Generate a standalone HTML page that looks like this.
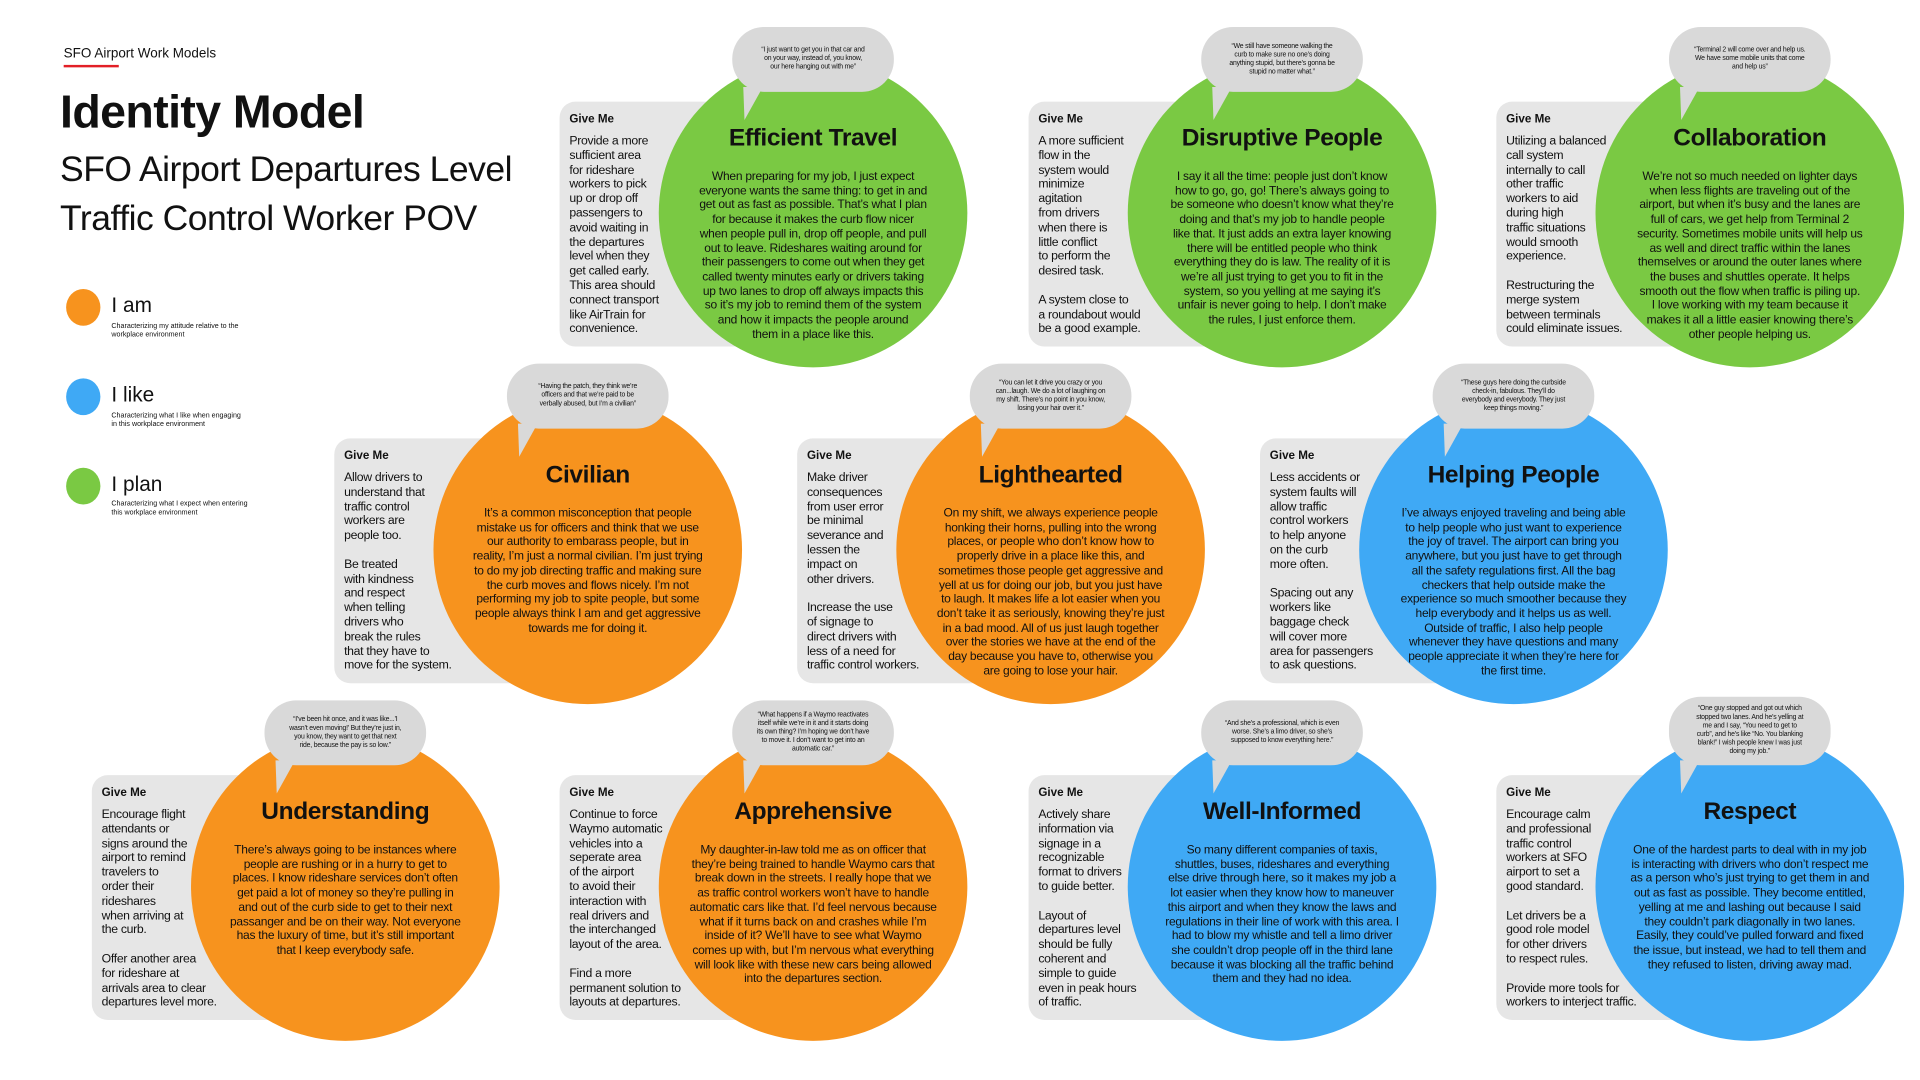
<!DOCTYPE html>
<html><head><meta charset="utf-8"><style>
html,body{margin:0;padding:0;background:#fff;}
body{width:1920px;height:1080px;overflow:hidden;position:relative;font-family:"Liberation Sans",Arial,sans-serif;color:#111;}
#w{position:absolute;left:0;top:0;width:1568px;height:882px;transform:scale(1.22449);transform-origin:0 0;}
.a{position:absolute;white-space:nowrap;}
.card{position:absolute;width:1px;height:1px;}
.box{position:absolute;left:0;top:0;width:215px;height:200px;background:#e6e6e6;border-radius:13px;}
.circ{position:absolute;left:81px;top:-35px;width:252px;height:252px;border-radius:50%;}
.g{background:#7ac943}.o{background:#f7931e}.b{background:#3fa9f5}
.bub{position:absolute;left:141px;top:-61px;width:132px;height:53px;background:#d9d9d9;border-radius:26px;display:flex;align-items:center;justify-content:center;text-align:center;font-size:5.6px;line-height:7px;letter-spacing:-0.15px;white-space:nowrap;}
.tail{position:absolute;left:0;top:0;overflow:visible;}
.gm{position:absolute;left:8px;top:9px;font-size:9.5px;font-weight:bold;white-space:nowrap;}
.gt{position:absolute;left:8px;top:27px;font-size:10px;line-height:11.8px;white-space:nowrap;letter-spacing:-0.25px;}
.ti{position:absolute;left:67px;top:19px;width:280px;text-align:center;font-size:20px;font-weight:bold;letter-spacing:-0.3px;white-space:nowrap;}
.bd{position:absolute;left:67px;top:56px;width:280px;text-align:center;font-size:9.8px;line-height:11.7px;white-space:nowrap;letter-spacing:-0.2px;}
.leg{position:absolute;width:28px;height:30px;border-radius:50%;}
</style></head><body><div id="w">

<div class="a" style="left:52px;top:38px;font-size:11px;">SFO Airport Work Models</div>
<div class="a" style="left:52px;top:53px;width:45px;height:2px;background:#e21f26;"></div>
<div class="a" style="left:49px;top:71px;font-size:38px;font-weight:bold;letter-spacing:-0.5px;">Identity Model</div>
<div class="a" style="left:49px;top:119px;font-size:29px;line-height:40px;letter-spacing:-0.4px;">SFO Airport Departures Level<br>Traffic Control Worker POV</div>

<div class="leg o" style="left:54px;top:236px;"></div>
<div class="a" style="left:91px;top:240px;font-size:17px;">I am</div>
<div class="a" style="left:91px;top:264px;font-size:5.8px;line-height:7px;">Characterizing my attitude relative to the<br>workplace environment</div>
<div class="leg b" style="left:54px;top:309px;"></div>
<div class="a" style="left:91px;top:313px;font-size:17px;">I like</div>
<div class="a" style="left:91px;top:337px;font-size:5.8px;line-height:7px;">Characterizing what I like when engaging<br>in this workplace environment</div>
<div class="leg g" style="left:54px;top:382px;"></div>
<div class="a" style="left:91px;top:386px;font-size:17px;">I plan</div>
<div class="a" style="left:91px;top:409px;font-size:5.8px;line-height:7px;">Characterizing what I expect when entering<br>this workplace environment</div>

<!-- Row 1 -->
<div class="card" style="left:457px;top:83px;">
<div class="box"></div><div class="circ g"></div>
<div class="bub">“I just want to get you in that car and<br>on your way, instead of, you know,<br>our here hanging out with me”</div>
<svg class="tail" width="1" height="1"><polygon points="150,-12 166,-12 151,15" fill="#d9d9d9"/></svg>
<div class="gm">Give Me</div>
<div class="gt">Provide a more<br>sufficient area<br>for rideshare<br>workers to pick<br>up or drop off<br>passengers to<br>avoid waiting in<br>the departures<br>level when they<br>get called early.<br>This area should<br>connect transport<br>like AirTrain for<br>convenience.</div>
<div class="ti">Efficient Travel</div>
<div class="bd">When preparing for my job, I just expect<br>everyone wants the same thing: to get in and<br>get out as fast as possible. That’s what I plan<br>for because it makes the curb flow nicer<br>when people pull in, drop off people, and pull<br>out to leave. Rideshares waiting around for<br>their passengers to come out when they get<br>called twenty minutes early or drivers taking<br>up two lanes to drop off always impacts this<br>so it’s my job to remind them of the system<br>and how it impacts the people around<br>them in a place like this.</div>
</div>

<div class="card" style="left:840px;top:83px;">
<div class="box"></div><div class="circ g"></div>
<div class="bub">“We still have someone walking the<br>curb to make sure no one’s doing<br>anything stupid, but there’s gonna be<br>stupid no matter what.”</div>
<svg class="tail" width="1" height="1"><polygon points="150,-12 166,-12 151,15" fill="#d9d9d9"/></svg>
<div class="gm">Give Me</div>
<div class="gt">A more sufficient<br>flow in the<br>system would<br>minimize<br>agitation<br>from drivers<br>when there is<br>little conflict<br>to perform the<br>desired task.<br><br>A system close to<br>a roundabout would<br>be a good example.</div>
<div class="ti">Disruptive People</div>
<div class="bd">I say it all the time: people just don’t know<br>how to go, go, go! There’s always going to<br>be someone who doesn’t know what they’re<br>doing and that’s my job to handle people<br>like that. It just adds an extra layer knowing<br>there will be entitled people who think<br>everything they do is law. The reality of it is<br>we’re all just trying to get you to fit in the<br>system, so you yelling at me saying it’s<br>unfair is never going to help. I don’t make<br>the rules, I just enforce them.</div>
</div>

<div class="card" style="left:1222px;top:83px;">
<div class="box"></div><div class="circ g"></div>
<div class="bub">“Terminal 2 will come over and help us.<br>We have some mobile units that come<br>and help us”</div>
<svg class="tail" width="1" height="1"><polygon points="150,-12 166,-12 151,15" fill="#d9d9d9"/></svg>
<div class="gm">Give Me</div>
<div class="gt">Utilizing a balanced<br>call system<br>internally to call<br>other traffic<br>workers to aid<br>during high<br>traffic situations<br>would smooth<br>experience.<br><br>Restructuring the<br>merge system<br>between terminals<br>could eliminate issues.</div>
<div class="ti">Collaboration</div>
<div class="bd">We’re not so much needed on lighter days<br>when less flights are traveling out of the<br>airport, but when it’s busy and the lanes are<br>full of cars, we get help from Terminal 2<br>security. Sometimes mobile units will help us<br>as well and direct traffic within the lanes<br>themselves or around the outer lanes where<br>the buses and shuttles operate. It helps<br>smooth out the flow when traffic is piling up.<br>I love working with my team because it<br>makes it all a little easier knowing there’s<br>other people helping us.</div>
</div>

<!-- Row 2 -->
<div class="card" style="left:273px;top:358px;">
<div class="box"></div><div class="circ o"></div>
<div class="bub">“Having the patch, they think we’re<br>officers and that we’re paid to be<br>verbally abused, but I’m a civilian”</div>
<svg class="tail" width="1" height="1"><polygon points="150,-12 166,-12 151,15" fill="#d9d9d9"/></svg>
<div class="gm">Give Me</div>
<div class="gt">Allow drivers to<br>understand that<br>traffic control<br>workers are<br>people too.<br><br>Be treated<br>with kindness<br>and respect<br>when telling<br>drivers who<br>break the rules<br>that they have to<br>move for the system.</div>
<div class="ti">Civilian</div>
<div class="bd">It’s a common misconception that people<br>mistake us for officers and think that we use<br>our authority to embarass people, but in<br>reality, I’m just a normal civilian. I’m just trying<br>to do my job directing traffic and making sure<br>the curb moves and flows nicely. I’m not<br>performing my job to spite people, but some<br>people always think I am and get aggressive<br>towards me for doing it.</div>
</div>

<div class="card" style="left:651px;top:358px;">
<div class="box"></div><div class="circ o"></div>
<div class="bub">“You can let it drive you crazy or you<br>can...laugh. We do a lot of laughing on<br>my shift. There’s no point in you know,<br>losing your hair over it.”</div>
<svg class="tail" width="1" height="1"><polygon points="150,-12 166,-12 151,15" fill="#d9d9d9"/></svg>
<div class="gm">Give Me</div>
<div class="gt">Make driver<br>consequences<br>from user error<br>be minimal<br>severance and<br>lessen the<br>impact on<br>other drivers.<br><br>Increase the use<br>of signage to<br>direct drivers with<br>less of a need for<br>traffic control workers.</div>
<div class="ti">Lighthearted</div>
<div class="bd">On my shift, we always experience people<br>honking their horns, pulling into the wrong<br>places, or people who don’t know how to<br>properly drive in a place like this, and<br>sometimes those people get aggressive and<br>yell at us for doing our job, but you just have<br>to laugh. It makes life a lot easier when you<br>don’t take it as seriously, knowing they’re just<br>in a bad mood. All of us just laugh together<br>over the stories we have at the end of the<br>day because you have to, otherwise you<br>are going to lose your hair.</div>
</div>

<div class="card" style="left:1029px;top:358px;">
<div class="box"></div><div class="circ b"></div>
<div class="bub">“These guys here doing the curbside<br>check-in, fabulous. They’ll do<br>everybody and everybody. They just<br>keep things moving.”</div>
<svg class="tail" width="1" height="1"><polygon points="150,-12 166,-12 151,15" fill="#d9d9d9"/></svg>
<div class="gm">Give Me</div>
<div class="gt">Less accidents or<br>system faults will<br>allow traffic<br>control workers<br>to help anyone<br>on the curb<br>more often.<br><br>Spacing out any<br>workers like<br>baggage check<br>will cover more<br>area for passengers<br>to ask questions.</div>
<div class="ti">Helping People</div>
<div class="bd">I’ve always enjoyed traveling and being able<br>to help people who just want to experience<br>the joy of travel. The airport can bring you<br>anywhere, but you just have to get through<br>all the safety regulations first. All the bag<br>checkers that help outside make the<br>experience so much smoother because they<br>help everybody and it helps us as well.<br>Outside of traffic, I also help people<br>whenever they have questions and many<br>people appreciate it when they’re here for<br>the first time.</div>
</div>

<!-- Row 3 -->
<div class="card" style="left:75px;top:633px;">
<div class="box"></div><div class="circ o"></div>
<div class="bub">“I’ve been hit once, and it was like...’I<br>wasn’t even moving!’ But they’re just in,<br>you know, they want to get that next<br>ride, because the pay is so low.”</div>
<svg class="tail" width="1" height="1"><polygon points="150,-12 166,-12 151,15" fill="#d9d9d9"/></svg>
<div class="gm">Give Me</div>
<div class="gt">Encourage flight<br>attendants or<br>signs around the<br>airport to remind<br>travelers to<br>order their<br>rideshares<br>when arriving at<br>the curb.<br><br>Offer another area<br>for rideshare at<br>arrivals area to clear<br>departures level more.</div>
<div class="ti">Understanding</div>
<div class="bd">There’s always going to be instances where<br>people are rushing or in a hurry to get to<br>places. I know rideshare services don’t often<br>get paid a lot of money so they’re pulling in<br>and out of the curb side to get to their next<br>passanger and be on their way. Not everyone<br>has the luxury of time, but it’s still important<br>that I keep everybody safe.</div>
</div>

<div class="card" style="left:457px;top:633px;">
<div class="box"></div><div class="circ o"></div>
<div class="bub">“What happens if a Waymo reactivates<br>itself while we’re in it and it starts doing<br>its own thing? I’m hoping we don’t have<br>to move it. I don’t want to get into an<br>automatic car.”</div>
<svg class="tail" width="1" height="1"><polygon points="150,-12 166,-12 151,15" fill="#d9d9d9"/></svg>
<div class="gm">Give Me</div>
<div class="gt">Continue to force<br>Waymo automatic<br>vehicles into a<br>seperate area<br>of the airport<br>to avoid their<br>interaction with<br>real drivers and<br>the interchanged<br>layout of the area.<br><br>Find a more<br>permanent solution to<br>layouts at departures.</div>
<div class="ti">Apprehensive</div>
<div class="bd">My daughter-in-law told me as on officer that<br>they’re being trained to handle Waymo cars that<br>break down in the streets. I really hope that we<br>as traffic control workers won’t have to handle<br>automatic cars like that. I’d feel nervous because<br>what if it turns back on and crashes while I’m<br>inside of it? We’ll have to see what Waymo<br>comes up with, but I’m nervous what everything<br>will look like with these new cars being allowed<br>into the departures section.</div>
</div>

<div class="card" style="left:840px;top:633px;">
<div class="box"></div><div class="circ b"></div>
<div class="bub">“And she’s a professional, which is even<br>worse. She’s a limo driver, so she’s<br>supposed to know everything here.”</div>
<svg class="tail" width="1" height="1"><polygon points="150,-12 166,-12 151,15" fill="#d9d9d9"/></svg>
<div class="gm">Give Me</div>
<div class="gt">Actively share<br>information via<br>signage in a<br>recognizable<br>format to drivers<br>to guide better.<br><br>Layout of<br>departures level<br>should be fully<br>coherent and<br>simple to guide<br>even in peak hours<br>of traffic.</div>
<div class="ti">Well-Informed</div>
<div class="bd">So many different companies of taxis,<br>shuttles, buses, rideshares and everything<br>else drive through here, so it makes my job a<br>lot easier when they know how to maneuver<br>this airport and when they know the laws and<br>regulations in their line of work with this area. I<br>had to blow my whistle and tell a limo driver<br>she couldn’t drop people off in the third lane<br>because it was blocking all the traffic behind<br>them and they had no idea.</div>
</div>

<div class="card" style="left:1222px;top:633px;">
<div class="box"></div><div class="circ b"></div>
<div class="bub" style="top:-64px;height:56px;">“One guy stopped and got out which<br>stopped two lanes. And he’s yelling at<br>me and I say, “You need to get to<br>curb”, and he’s like “No. You blanking<br>blank!” I wish people knew I was just<br>doing my job.”</div>
<svg class="tail" width="1" height="1"><polygon points="150,-12 166,-12 151,15" fill="#d9d9d9"/></svg>
<div class="gm">Give Me</div>
<div class="gt">Encourage calm<br>and professional<br>traffic control<br>workers at SFO<br>airport to set a<br>good standard.<br><br>Let drivers be a<br>good role model<br>for other drivers<br>to respect rules.<br><br>Provide more tools for<br>workers to interject traffic.</div>
<div class="ti">Respect</div>
<div class="bd">One of the hardest parts to deal with in my job<br>is interacting with drivers who don’t respect me<br>as a person who’s just trying to get them in and<br>out as fast as possible. They become entitled,<br>yelling at me and lashing out because I said<br>they couldn’t park diagonally in two lanes.<br>Easily, they could’ve pulled forward and fixed<br>the issue, but instead, we had to tell them and<br>they refused to listen, driving away mad.</div>
</div>

</div></body></html>
